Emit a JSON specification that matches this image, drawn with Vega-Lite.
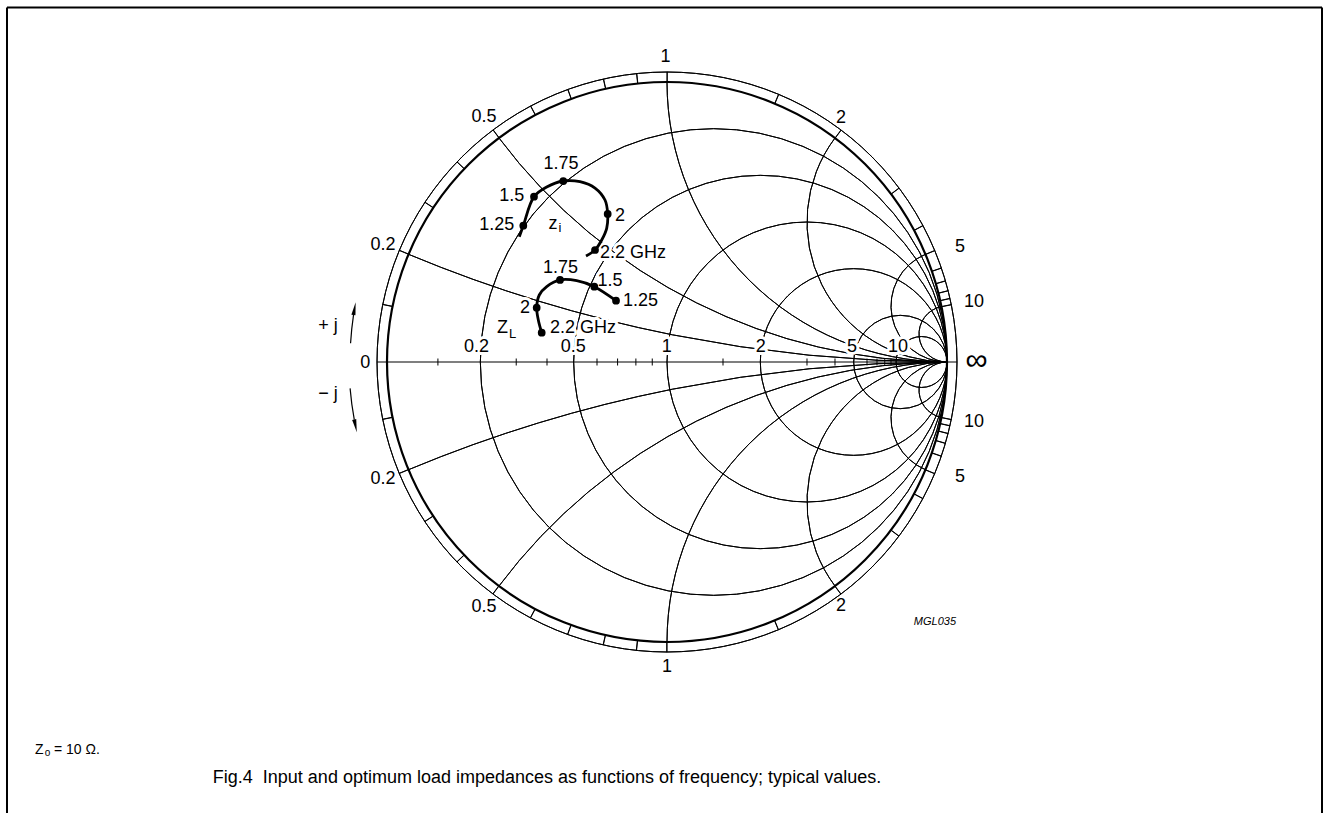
{
  "$schema": "https://vega.github.io/schema/vega-lite/v6.json",
  "width": 1329,
  "height": 813,
  "autosize": {"type": "none"},
  "padding": 0,
  "background": "white",
  "config": {"view": {"stroke": null}, "text": {"font": "Liberation Sans", "color": "black"}},
  "datasets": {
    "rcirc": [
      {"r": 0.2, "gx": 0.166667, "gy": 0, "rad": 0.833333, "a0": 0, "a1": 360},
      {"r": 0.5, "gx": 0.333333, "gy": 0, "rad": 0.666667, "a0": 0, "a1": 360},
      {"r": 1, "gx": 0.5, "gy": 0, "rad": 0.5, "a0": 0, "a1": 360},
      {"r": 2, "gx": 0.666667, "gy": 0, "rad": 0.333333, "a0": 0, "a1": 360},
      {"r": 5, "gx": 0.833333, "gy": 0, "rad": 0.166667, "a0": 0, "a1": 360},
      {"r": 10, "gx": 0.909091, "gy": 0, "rad": 0.090909, "a0": 0, "a1": 360}
    ],
    "xarcs": [
      {"x": 0.2, "gx": 1, "gy": 5, "rad": 5, "a0": 180, "a1": 202.62},
      {"x": 0.5, "gx": 1, "gy": 2, "rad": 2, "a0": 180, "a1": 233.13},
      {"x": 1, "gx": 1, "gy": 1, "rad": 1, "a0": 180, "a1": 270},
      {"x": 2, "gx": 1, "gy": 0.5, "rad": 0.5, "a0": 180, "a1": 306.87},
      {"x": 5, "gx": 1, "gy": 0.2, "rad": 0.2, "a0": 180, "a1": 337.38},
      {"x": 10, "gx": 1, "gy": 0.1, "rad": 0.1, "a0": 180, "a1": 348.58},
      {"x": -0.2, "gx": 1, "gy": -5, "rad": 5, "a0": 337.38, "a1": 360},
      {"x": -0.5, "gx": 1, "gy": -2, "rad": 2, "a0": 306.87, "a1": 360},
      {"x": -1, "gx": 1, "gy": -1, "rad": 1, "a0": 270, "a1": 360},
      {"x": -2, "gx": 1, "gy": -0.5, "rad": 0.5, "a0": 233.13, "a1": 360},
      {"x": -5, "gx": 1, "gy": -0.2, "rad": 0.2, "a0": 202.62, "a1": 360},
      {"x": -10, "gx": 1, "gy": -0.1, "rad": 0.1, "a0": 191.42, "a1": 360}
    ],
    "ringticks": [
      {"x": 0.1, "gx": 0, "gy": 0, "rin": 1, "rout": 1.035714, "ang": 281.421, "ang2": 281.471},
      {"x": 0.2, "gx": 0, "gy": 0, "rin": 1, "rout": 1.035714, "ang": 292.62, "ang2": 292.67},
      {"x": 0.3, "gx": 0, "gy": 0, "rin": 1, "rout": 1.035714, "ang": 303.398, "ang2": 303.448},
      {"x": 0.4, "gx": 0, "gy": 0, "rin": 1, "rout": 1.035714, "ang": 313.603, "ang2": 313.653},
      {"x": 0.5, "gx": 0, "gy": 0, "rin": 1, "rout": 1.035714, "ang": 323.13, "ang2": 323.18},
      {"x": 0.6, "gx": 0, "gy": 0, "rin": 1, "rout": 1.035714, "ang": 331.928, "ang2": 331.978},
      {"x": 0.7, "gx": 0, "gy": 0, "rin": 1, "rout": 1.035714, "ang": 339.984, "ang2": 340.034},
      {"x": 0.8, "gx": 0, "gy": 0, "rin": 1, "rout": 1.035714, "ang": 347.32, "ang2": 347.37},
      {"x": 0.9, "gx": 0, "gy": 0, "rin": 1, "rout": 1.035714, "ang": 353.975, "ang2": 354.025},
      {"x": 1, "gx": 0, "gy": 0, "rin": 1, "rout": 1.035714, "ang": 0, "ang2": 0.05},
      {"x": 1.5, "gx": 0, "gy": 0, "rin": 1, "rout": 1.035714, "ang": 22.62, "ang2": 22.67},
      {"x": 2, "gx": 0, "gy": 0, "rin": 1, "rout": 1.035714, "ang": 36.87, "ang2": 36.92},
      {"x": 3, "gx": 0, "gy": 0, "rin": 1, "rout": 1.035714, "ang": 53.13, "ang2": 53.18},
      {"x": 4, "gx": 0, "gy": 0, "rin": 1, "rout": 1.035714, "ang": 61.928, "ang2": 61.978},
      {"x": 5, "gx": 0, "gy": 0, "rin": 1, "rout": 1.035714, "ang": 67.38, "ang2": 67.43},
      {"x": 6, "gx": 0, "gy": 0, "rin": 1, "rout": 1.035714, "ang": 71.075, "ang2": 71.125},
      {"x": 7, "gx": 0, "gy": 0, "rin": 1, "rout": 1.035714, "ang": 73.74, "ang2": 73.79},
      {"x": 8, "gx": 0, "gy": 0, "rin": 1, "rout": 1.035714, "ang": 75.75, "ang2": 75.8},
      {"x": 9, "gx": 0, "gy": 0, "rin": 1, "rout": 1.035714, "ang": 77.32, "ang2": 77.37},
      {"x": 10, "gx": 0, "gy": 0, "rin": 1, "rout": 1.035714, "ang": 78.579, "ang2": 78.629},
      {"x": -0.1, "gx": 0, "gy": 0, "rin": 1, "rout": 1.035714, "ang": 258.579, "ang2": 258.629},
      {"x": -0.2, "gx": 0, "gy": 0, "rin": 1, "rout": 1.035714, "ang": 247.38, "ang2": 247.43},
      {"x": -0.3, "gx": 0, "gy": 0, "rin": 1, "rout": 1.035714, "ang": 236.602, "ang2": 236.652},
      {"x": -0.4, "gx": 0, "gy": 0, "rin": 1, "rout": 1.035714, "ang": 226.397, "ang2": 226.447},
      {"x": -0.5, "gx": 0, "gy": 0, "rin": 1, "rout": 1.035714, "ang": 216.87, "ang2": 216.92},
      {"x": -0.6, "gx": 0, "gy": 0, "rin": 1, "rout": 1.035714, "ang": 208.072, "ang2": 208.122},
      {"x": -0.7, "gx": 0, "gy": 0, "rin": 1, "rout": 1.035714, "ang": 200.016, "ang2": 200.066},
      {"x": -0.8, "gx": 0, "gy": 0, "rin": 1, "rout": 1.035714, "ang": 192.68, "ang2": 192.73},
      {"x": -0.9, "gx": 0, "gy": 0, "rin": 1, "rout": 1.035714, "ang": 186.025, "ang2": 186.075},
      {"x": -1, "gx": 0, "gy": 0, "rin": 1, "rout": 1.035714, "ang": 180, "ang2": 180.05},
      {"x": -1.5, "gx": 0, "gy": 0, "rin": 1, "rout": 1.035714, "ang": 157.38, "ang2": 157.43},
      {"x": -2, "gx": 0, "gy": 0, "rin": 1, "rout": 1.035714, "ang": 143.13, "ang2": 143.18},
      {"x": -3, "gx": 0, "gy": 0, "rin": 1, "rout": 1.035714, "ang": 126.87, "ang2": 126.92},
      {"x": -4, "gx": 0, "gy": 0, "rin": 1, "rout": 1.035714, "ang": 118.072, "ang2": 118.122},
      {"x": -5, "gx": 0, "gy": 0, "rin": 1, "rout": 1.035714, "ang": 112.62, "ang2": 112.67},
      {"x": -6, "gx": 0, "gy": 0, "rin": 1, "rout": 1.035714, "ang": 108.925, "ang2": 108.975},
      {"x": -7, "gx": 0, "gy": 0, "rin": 1, "rout": 1.035714, "ang": 106.26, "ang2": 106.31},
      {"x": -8, "gx": 0, "gy": 0, "rin": 1, "rout": 1.035714, "ang": 104.25, "ang2": 104.3},
      {"x": -9, "gx": 0, "gy": 0, "rin": 1, "rout": 1.035714, "ang": 102.68, "ang2": 102.73},
      {"x": -10, "gx": 0, "gy": 0, "rin": 1, "rout": 1.035714, "ang": 101.421, "ang2": 101.471}
    ],
    "axisticks": [
      {"r": 0.1, "gx": -0.81818, "gy": -0.0125, "gy2": 0.0125}, {"r": 0.3, "gx": -0.53846, "gy": -0.0125, "gy2": 0.0125},
      {"r": 0.4, "gx": -0.42857, "gy": -0.0125, "gy2": 0.0125}, {"r": 0.6, "gx": -0.25, "gy": -0.0125, "gy2": 0.0125},
      {"r": 0.7, "gx": -0.17647, "gy": -0.0125, "gy2": 0.0125}, {"r": 0.8, "gx": -0.11111, "gy": -0.0125, "gy2": 0.0125},
      {"r": 0.9, "gx": -0.05263, "gy": -0.0125, "gy2": 0.0125}, {"r": 1.5, "gx": 0.2, "gy": -0.0125, "gy2": 0.0125},
      {"r": 3, "gx": 0.5, "gy": -0.0125, "gy2": 0.0125}, {"r": 4, "gx": 0.6, "gy": -0.0125, "gy2": 0.0125},
      {"r": 6, "gx": 0.71429, "gy": -0.0125, "gy2": 0.0125}, {"r": 7, "gx": 0.75, "gy": -0.0125, "gy2": 0.0125},
      {"r": 8, "gx": 0.77778, "gy": -0.0125, "gy2": 0.0125}, {"r": 9, "gx": 0.8, "gy": -0.0125, "gy2": 0.0125}
    ],
    "frame": [
      {"gx": -2.357143, "gy": 1.266071, "gx2": 2.339286, "gy2": 1.266071},
      {"gx": -2.357143, "gy": 1.266071, "gx2": -2.357143, "gy2": -1.62},
      {"gx": 2.339286, "gy": 1.266071, "gx2": 2.339286, "gy2": -1.62}
    ],
    "curves": [
      {"s": "zi", "o": 0, "gx": -0.5275, "gy": 0.4475, "f": null},
      {"s": "zi", "o": 1, "gx": -0.5132, "gy": 0.4868, "f": 1.25},
      {"s": "zi", "o": 2, "gx": -0.475, "gy": 0.5904, "f": 1.5},
      {"s": "zi", "o": 3, "gx": -0.4296, "gy": 0.625, "f": null},
      {"s": "zi", "o": 4, "gx": -0.3704, "gy": 0.6464, "f": 1.75},
      {"s": "zi", "o": 5, "gx": -0.3107, "gy": 0.6439, "f": null},
      {"s": "zi", "o": 6, "gx": -0.2571, "gy": 0.6214, "f": null},
      {"s": "zi", "o": 7, "gx": -0.2214, "gy": 0.5786, "f": null},
      {"s": "zi", "o": 8, "gx": -0.2118, "gy": 0.5286, "f": 2},
      {"s": "zi", "o": 9, "gx": -0.2154, "gy": 0.4775, "f": null},
      {"s": "zi", "o": 10, "gx": -0.2332, "gy": 0.4357, "f": null},
      {"s": "zi", "o": 11, "gx": -0.2571, "gy": 0.4, "f": 2.2},
      {"s": "zi", "o": 12, "gx": -0.2893, "gy": 0.3786, "f": null},
      {"s": "zL", "o": 0, "gx": -0.1821, "gy": 0.2189, "f": 1.25},
      {"s": "zL", "o": 1, "gx": -0.2596, "gy": 0.2689, "f": 1.5},
      {"s": "zL", "o": 2, "gx": -0.3225, "gy": 0.2904, "f": null},
      {"s": "zL", "o": 3, "gx": -0.3821, "gy": 0.2929, "f": 1.75},
      {"s": "zL", "o": 4, "gx": -0.4296, "gy": 0.2689, "f": null},
      {"s": "zL", "o": 5, "gx": -0.4561, "gy": 0.2393, "f": null},
      {"s": "zL", "o": 6, "gx": -0.4654, "gy": 0.1939, "f": 2},
      {"s": "zL", "o": 7, "gx": -0.4596, "gy": 0.15, "f": null},
      {"s": "zL", "o": 8, "gx": -0.4475, "gy": 0.1046, "f": 2.2}
    ],
    "lblOut": [
      {"t": "1", "gx": -0.0054, "gy": 1.0875},
      {"t": "0.5", "gx": -0.6536, "gy": 0.875},
      {"t": "2", "gx": 0.6214, "gy": 0.8714},
      {"t": "0.2", "gx": -1.0143, "gy": 0.4179},
      {"t": "5", "gx": 1.0464, "gy": 0.4107},
      {"t": "10", "gx": 1.0964, "gy": 0.2143},
      {"t": "10", "gx": 1.0964, "gy": -0.2143},
      {"t": "5", "gx": 1.0464, "gy": -0.4107},
      {"t": "0.2", "gx": -1.0143, "gy": -0.4179},
      {"t": "0.5", "gx": -0.6536, "gy": -0.875},
      {"t": "2", "gx": 0.6214, "gy": -0.8714},
      {"t": "1", "gx": 0, "gy": -1.0893},
      {"t": "0", "gx": -1.0775, "gy": -0.0036},
      {"t": "+ j", "gx": -1.2107, "gy": 0.1286},
      {"t": "− j", "gx": -1.2107, "gy": -0.1143}
    ],
    "lblC": [
      {"t": "0.2", "gx": -0.6804, "gy": 0.0518},
      {"t": "0.5", "gx": -0.3346, "gy": 0.0518},
      {"t": "1", "gx": -0.0011, "gy": 0.0518},
      {"t": "2", "gx": 0.3346, "gy": 0.0518},
      {"t": "5", "gx": 0.6607, "gy": 0.0518},
      {"t": "10", "gx": 0.825, "gy": 0.0518},
      {"t": "1.75", "gx": -0.3786, "gy": 0.7071},
      {"t": "1.5", "gx": -0.5546, "gy": 0.5929},
      {"t": "1.25", "gx": -0.6082, "gy": 0.4893},
      {"t": "2", "gx": -0.1679, "gy": 0.5214},
      {"t": "1.75", "gx": -0.3804, "gy": 0.3375},
      {"t": "1.5", "gx": -0.2036, "gy": 0.2893},
      {"t": "2", "gx": -0.5071, "gy": 0.1946},
      {"t": "z", "gx": -0.4071, "gy": 0.4911},
      {"t": "Z", "gx": -0.5875, "gy": 0.1204}
    ],
    "lblL": [
      {"t": "2.2 GHz", "gx": -0.2393, "gy": 0.3893},
      {"t": "2.2 GHz", "gx": -0.4179, "gy": 0.1232},
      {"t": "1.25", "gx": -0.1571, "gy": 0.2161}
    ],
    "sub": [
      {"t": "i", "gx": -0.3821, "gy": 0.4786},
      {"t": "L", "gx": -0.5518, "gy": 0.1}
    ]
  },
  "encoding": {
    "x": {"field": "gx", "type": "quantitative", "scale": {"domain": [-2.382143, 2.364286], "nice": false, "zero": false}, "axis": null},
    "y": {"field": "gy", "type": "quantitative", "scale": {"domain": [-1.610714, 1.292857], "nice": false, "zero": false}, "axis": null}
  },
  "layer": [
    {
      "data": {"name": "frame"},
      "mark": {"type": "rule", "stroke": "black", "strokeWidth": 2},
      "encoding": {"x2": {"field": "gx2"}, "y2": {"field": "gy2"}}
    },
    {
      "data": {"name": "rcirc"},
      "mark": {"type": "arc", "filled": false, "fill": "transparent", "stroke": "black", "strokeWidth": 1},
      "encoding": {
        "radius": {"field": "rad", "type": "quantitative", "scale": {"type": "linear", "domain": [0, 1], "range": [0, 280], "zero": true, "nice": false}},
        "radius2": {"field": "rad"},
        "theta": {"field": "a0", "type": "quantitative", "stack": null, "scale": {"type": "linear", "domain": [0, 360], "range": [0, 6.283185], "nice": false, "zero": false}},
        "theta2": {"field": "a1"}
      }
    },
    {
      "data": {"name": "xarcs"},
      "mark": {"type": "arc", "filled": false, "fill": "transparent", "stroke": "black", "strokeWidth": 1},
      "encoding": {
        "radius": {"field": "rad", "type": "quantitative"},
        "radius2": {"field": "rad"},
        "theta": {"field": "a0", "type": "quantitative", "stack": null},
        "theta2": {"field": "a1"}
      }
    },
    {
      "data": {"values": [{"ring": "unit", "gx": 0, "gy": 0, "rad": 1, "a0": 0, "a1": 360}]},
      "mark": {"type": "arc", "filled": false, "fill": "transparent", "stroke": "black", "strokeWidth": 2.2},
      "encoding": {
        "radius": {"field": "rad", "type": "quantitative"},
        "radius2": {"field": "rad"},
        "theta": {"field": "a0", "type": "quantitative", "stack": null},
        "theta2": {"field": "a1"}
      }
    },
    {
      "data": {"values": [{"ring": "outer", "gx": 0, "gy": 0, "rad": 1.035714, "a0": 0, "a1": 360}]},
      "mark": {"type": "arc", "filled": false, "fill": "transparent", "stroke": "black", "strokeWidth": 1},
      "encoding": {
        "radius": {"field": "rad", "type": "quantitative"},
        "radius2": {"field": "rad"},
        "theta": {"field": "a0", "type": "quantitative", "stack": null},
        "theta2": {"field": "a1"}
      }
    },
    {
      "data": {"name": "ringticks"},
      "mark": {"type": "arc", "filled": false, "fill": "transparent", "stroke": "black", "strokeWidth": 1},
      "encoding": {
        "radius": {"field": "rin", "type": "quantitative"},
        "radius2": {"field": "rout"},
        "theta": {"field": "ang", "type": "quantitative", "stack": null},
        "theta2": {"field": "ang2"}
      }
    },
    {
      "data": {"values": [{"gx": -1.035714, "gy": 0, "gx2": 1.035714}]},
      "mark": {"type": "rule", "stroke": "black", "strokeWidth": 1.2},
      "encoding": {"x2": {"field": "gx2"}}
    },
    {
      "data": {"name": "axisticks"},
      "mark": {"type": "rule", "stroke": "black", "strokeWidth": 1},
      "encoding": {"y2": {"field": "gy2"}}
    },
    {
      "data": {"values": [
        {"arrow": "+j", "gx": 0, "gy": 0, "rad": 1.1321, "a0": 273.4, "a1": 278.55},
        {"arrow": "-j", "gx": 0, "gy": 0, "rad": 1.1357, "a0": 259.55, "a1": 265.24}
      ]},
      "mark": {"type": "arc", "filled": false, "fill": "transparent", "stroke": "black", "strokeWidth": 1.2},
      "encoding": {
        "radius": {"field": "rad", "type": "quantitative"},
        "radius2": {"field": "rad"},
        "theta": {"field": "a0", "type": "quantitative", "stack": null},
        "theta2": {"field": "a1"}
      }
    },
    {
      "data": {"values": [{"arrow": "+j", "gx": -1.11596, "gy": 0.19075}]},
      "mark": {"type": "point", "shape": "M0,-1L0.32,1L-0.32,1Z", "filled": true, "color": "black", "size": 169, "angle": 10, "opacity": 1}
    },
    {
      "data": {"values": [{"arrow": "-j", "gx": -1.1125, "gy": -0.2282}]},
      "mark": {"type": "point", "shape": "M0,-1L0.32,1L-0.32,1Z", "filled": true, "color": "black", "size": 169, "angle": 168.4, "opacity": 1}
    },
    {
      "data": {"name": "lblC"},
      "mark": {"type": "text", "fontSize": 18, "align": "center", "baseline": "middle", "fill": "white", "stroke": "white", "strokeWidth": 6, "strokeJoin": "round"},
      "encoding": {"text": {"field": "t"}}
    },
    {
      "data": {"name": "lblL"},
      "mark": {"type": "text", "fontSize": 18, "align": "left", "baseline": "middle", "fill": "white", "stroke": "white", "strokeWidth": 6, "strokeJoin": "round"},
      "encoding": {"text": {"field": "t"}}
    },
    {
      "data": {"name": "curves"},
      "mark": {"type": "line", "color": "black", "strokeWidth": 2.8, "interpolate": "catmull-rom"},
      "encoding": {"order": {"field": "o", "type": "quantitative"}, "detail": {"field": "s"}}
    },
    {
      "data": {"name": "curves"},
      "transform": [{"filter": "isValid(datum.f)"}],
      "mark": {"type": "point", "filled": true, "color": "black", "size": 60, "opacity": 1}
    },
    {
      "data": {"name": "lblOut"},
      "mark": {"type": "text", "fontSize": 18, "align": "center", "baseline": "middle"},
      "encoding": {"text": {"field": "t"}}
    },
    {
      "data": {"name": "lblC"},
      "mark": {"type": "text", "fontSize": 18, "align": "center", "baseline": "middle"},
      "encoding": {"text": {"field": "t"}}
    },
    {
      "data": {"name": "lblL"},
      "mark": {"type": "text", "fontSize": 18, "align": "left", "baseline": "middle"},
      "encoding": {"text": {"field": "t"}}
    },
    {
      "data": {"name": "sub"},
      "mark": {"type": "text", "fontSize": 13, "align": "center", "baseline": "middle"},
      "encoding": {"text": {"field": "t"}}
    },
    {
      "data": {"values": [{"t": "∞", "gx": 1.1054, "gy": 0.0018}]},
      "mark": {"type": "text", "fontSize": 31, "align": "center", "baseline": "middle"},
      "encoding": {"text": {"field": "t"}}
    },
    {
      "data": {"values": [{"t": "MGL035", "gx": 0.957, "gy": -0.9286}]},
      "mark": {"type": "text", "fontSize": 11, "fontStyle": "italic", "align": "center", "baseline": "middle"},
      "encoding": {"text": {"field": "t"}}
    },
    {
      "data": {"values": [{"t": "Z", "gx": -2.2571, "gy": -1.3857}, {"t": "= 10 Ω.", "gx": -2.1893, "gy": -1.3857}]},
      "mark": {"type": "text", "fontSize": 14, "align": "left", "baseline": "middle"},
      "encoding": {"text": {"field": "t"}}
    },
    {
      "data": {"values": [{"t": "o", "gx": -2.2225, "gy": -1.3982}]},
      "mark": {"type": "text", "fontSize": 10, "align": "left", "baseline": "middle"},
      "encoding": {"text": {"field": "t"}}
    },
    {
      "data": {"values": [{"t": "Fig.4 \u00a0Input and optimum load impedances as functions of frequency; typical values.", "gx": -0.4286, "gy": -1.4857}]},
      "mark": {"type": "text", "fontSize": 18, "align": "center", "baseline": "middle"},
      "encoding": {"text": {"field": "t"}}
    }
  ]
}
